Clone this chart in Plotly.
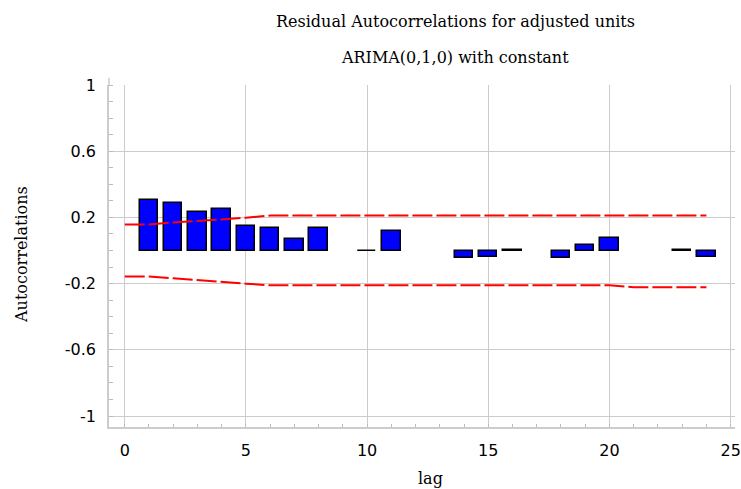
import plotly.graph_objects as go

# ---- data ----
lags = list(range(1, 25))
acf = [0.305, 0.285, 0.232, 0.252, 0.146, 0.136, 0.070, 0.136, None, -0.004,
       0.116, None, None, -0.048, -0.040, 0.004, None, -0.048, 0.034, 0.076,
       None, None, 0.004, -0.040]

limit_lags = list(range(0, 25))
upper_limit = [0.157, 0.157, 0.170, 0.178, 0.188, 0.198, 0.211, 0.211, 0.211, 0.211,
               0.211, 0.211, 0.211, 0.211, 0.211, 0.211, 0.211, 0.211, 0.211, 0.211,
               0.211, 0.211, 0.211, 0.211, 0.211]
lower_limit = [-0.157, -0.157, -0.168, -0.180, -0.190, -0.200, -0.210, -0.210, -0.210, -0.210,
               -0.210, -0.210, -0.210, -0.210, -0.210, -0.210, -0.210, -0.210, -0.210, -0.210,
               -0.210, -0.222, -0.222, -0.222, -0.222]

y_tickvals = [1, 0.6, 0.2, -0.2, -0.6, -1]
y_ticktext = ["1", "0.6", "0.2", "-0.2", "-0.6", "-1"]
x_tickvals = [0, 5, 10, 15, 20, 25]
x_ticktext = ["0", "5", "10", "15", "20", "25"]

title1 = "Residual Autocorrelations for adjusted units"
title2 = "ARIMA(0,1,0) with constant"
y_title = "Autocorrelations"
x_title = "lag"

# ---- figure ----
fig = go.Figure()
fig.add_trace(go.Bar(
    x=lags, y=acf, width=0.76,
    marker=dict(color="#0000FF", line=dict(color="black", width=1.5)),
    showlegend=False,
))
for lim in (upper_limit, lower_limit):
    fig.add_trace(go.Scatter(
        x=limit_lags, y=lim, mode="lines",
        line=dict(color="#FF0000", width=2, dash="20px,4px"),
        showlegend=False, hoverinfo="skip",
    ))

grid = "#cccccc"
serif = "DejaVu Serif"
sans = "DejaVu Sans"

fig.update_layout(
    width=741, height=489,
    margin=dict(l=109, r=6, t=85, b=62),
    paper_bgcolor="white", plot_bgcolor="white",
    bargap=0,
    xaxis=dict(
        range=[-0.65, 25.18], tickvals=x_tickvals, ticktext=x_ticktext,
        showgrid=True, gridcolor=grid, gridwidth=1,
        zeroline=False, showline=True, linecolor=grid, linewidth=1.5,
        ticks="", ticklabelstandoff=8, automargin=False,
        tickfont=dict(family=sans, size=16, color="black"),
        minor=dict(dtick=1, tick0=0, ticks="inside", ticklen=3, tickcolor="#bbbbbb",
                   tickwidth=1, showgrid=False),
    ),
    yaxis=dict(
        range=[-1.066, 1.0], tickvals=y_tickvals, ticktext=y_ticktext,
        showgrid=True, gridcolor=grid, gridwidth=1,
        zeroline=False, showline=True, linecolor=grid, linewidth=1.5,
        ticks="", ticklabelstandoff=8, automargin=False,
        tickfont=dict(family=sans, size=16, color="black"),
        minor=dict(dtick=0.1, tick0=0, ticks="inside", ticklen=4, tickcolor="#bbbbbb",
                   tickwidth=1, showgrid=False),
    ),
    shapes=[
        # short extension of the y-axis line above the top gridline
        dict(type="line", xref="paper", yref="paper", x0=0, x1=0, y0=1, y1=1.021,
             line=dict(color=grid, width=1.5)),
    ],
    annotations=[
        dict(text=title1, xref="paper", yref="paper", x=0.553, y=1.185,
             xanchor="center", yanchor="middle", showarrow=False,
             font=dict(family=serif, size=16, color="black")),
        dict(text=title2, xref="paper", yref="paper", x=0.553, y=1.079,
             xanchor="center", yanchor="middle", showarrow=False,
             font=dict(family=serif, size=16, color="black")),
        dict(text=y_title, xref="paper", yref="paper", x=-0.139, y=0.506,
             xanchor="center", yanchor="middle", textangle=-90, showarrow=False,
             font=dict(family=serif, size=16, color="black")),
        dict(text=x_title, xref="paper", yref="paper", x=0.513, y=-0.152,
             xanchor="center", yanchor="middle", showarrow=False,
             font=dict(family=serif, size=16, color="black")),
    ],
)

fig.write_html("out.html",
               config={"displayModeBar": False},
               post_script="document.body.style.margin='0px';document.body.style.overflow='hidden';")
